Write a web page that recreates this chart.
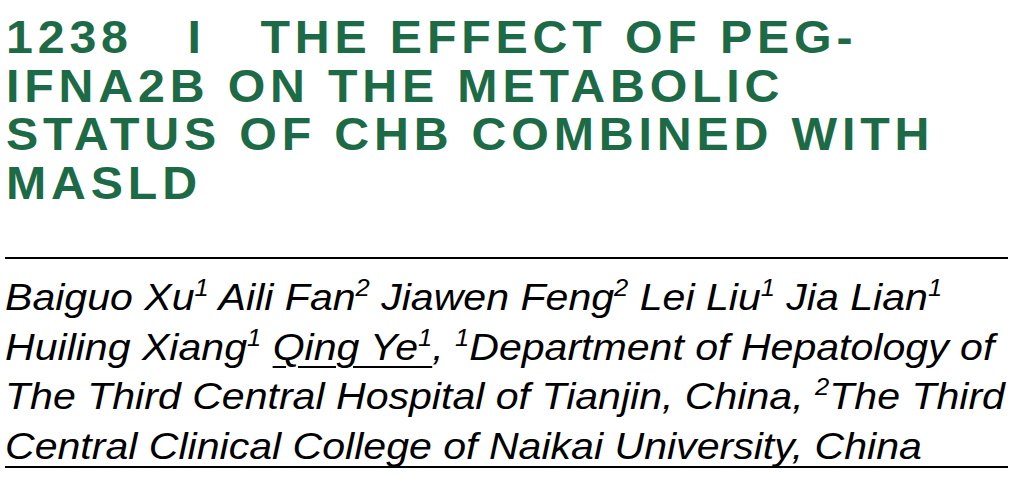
<!DOCTYPE html>
<html><head><meta charset="utf-8">
<script src="https://cdn.jsdelivr.net/npm/chart.js@4"></script>
<style>
html,body{margin:0;padding:0;background:#fff;width:1021px;height:494px;overflow:hidden}
#title{position:absolute;left:6px;top:13px;font-family:"Liberation Sans",Arial,sans-serif;font-weight:bold;color:#1d6b46;font-size:46px;line-height:48.5px;letter-spacing:4.6px;margin:0;white-space:nowrap;transform:scaleX(1.05);transform-origin:0 0}
#rule1{position:absolute;left:5px;top:257px;width:1003px;height:2px;background:#000}
#authors{position:absolute;left:5px;top:273px;font-family:"Liberation Sans",Arial,sans-serif;font-style:italic;font-size:37px;line-height:49.5px;color:#000;white-space:nowrap;transform:scaleX(1.11);transform-origin:0 0}
#authors sup{font-size:23px;vertical-align:14px;line-height:0}
#rule2{position:absolute;left:5px;top:466px;width:1003px;height:2px;background:#000}
u{text-decoration-thickness:2px;text-underline-offset:6px}
</style></head><body>
<div id="title"></div>
<div id="rule1"></div>
<div id="authors"></div>
<div id="rule2"></div>
<script>
const titleLines=["1238 &nbsp; I &nbsp; THE EFFECT OF PEG-","IFNA2B ON THE METABOLIC","STATUS OF CHB COMBINED WITH","MASLD"];
const authorLines=[
"Baiguo Xu<sup>1</sup> Aili Fan<sup>2</sup> Jiawen Feng<sup>2</sup> Lei Liu<sup>1</sup> Jia Lian<sup>1</sup>",
"Huiling Xiang<sup>1</sup> <u>Qing Ye<sup>1</sup></u>, <sup>1</sup>Department of Hepatology of",
"The Third Central Hospital of Tianjin, China, <sup>2</sup>The Third",
"Central Clinical College of Naikai University, China"];
document.getElementById('title').innerHTML=titleLines.join('<br>');
document.getElementById('authors').innerHTML=authorLines.join('<br>');
</script>
</body></html>
